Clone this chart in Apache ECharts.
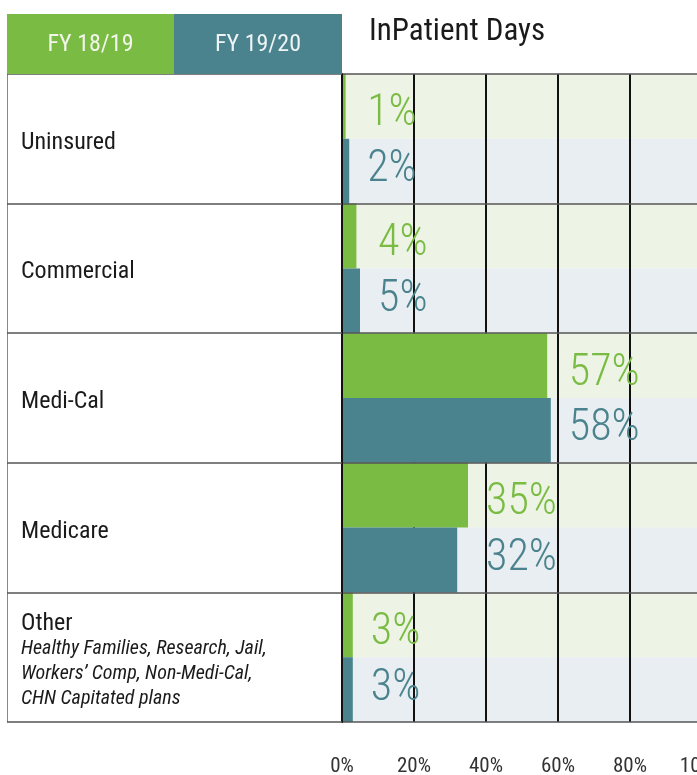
<!DOCTYPE html>
<html>
<head>
<meta charset="utf-8">
<script src="https://cdn.jsdelivr.net/npm/echarts@6/dist/echarts.min.js"></script>
<style>
html,body{margin:0;padding:0;background:#fff;}
#chart{width:697px;height:775px;}
</style>
</head>
<body>
<div id="chart"></div>
<script>
var categories = ['Uninsured', 'Commercial', 'Medi-Cal', 'Medicare', 'Other'];
var otherNote = ['Healthy Families, Research, Jail,', 'Workers\u2019 Comp, Non-Medi-Cal,', 'CHN Capitated plans'];
var fy1819 = [1, 4, 57, 35, 3];
var fy1920 = [2, 5, 58, 32, 3];
var seriesNames = ['FY 18/19', 'FY 19/20'];
var xTicks = [0, 20, 40, 60, 80, 100];
var title = 'InPatient Days';

var FONT = '"Roboto Condensed", "Liberation Sans Narrow", "DejaVu Sans Condensed", Roboto, sans-serif';
var GREEN = '#7abc43';
var TEAL = '#4a838d';
var GREEN_BG = '#edf3e5';
var TEAL_BG = '#e8eef1';

var gridLeft = 342, gridTop = 74, gridHeight = 648, gridWidth = 360;
var xMax = xTicks[xTicks.length - 1];
var pxPerUnit = gridWidth / xMax;
var labelGap = 18;

function labelData(values, other, dy) {
  return values.map(function (v, i) {
    var m = Math.max(values[i], other[i]);
    return {
      value: v,
      label: { offset: [(m - v) * pxPerUnit + labelGap, dy] }
    };
  });
}

var halfCats = [];
categories.forEach(function (c) { halfCats.push(c + '_a'); halfCats.push(c + '_b'); });

var chart = echarts.init(document.getElementById('chart'), null, { renderer: 'canvas' });
chart.setOption({
  animation: false,
  textStyle: { fontFamily: FONT },
  title: {
    text: title,
    left: 364, top: 12,
    textStyle: { fontFamily: FONT, fontSize: 31, fontWeight: 'normal', color: '#1a1a1a' }
  },
  grid: { left: gridLeft, top: gridTop, width: gridWidth, height: gridHeight, containLabel: false, outerBoundsMode: 'none' },
  graphic: [
    { type: 'rect', shape: { x: 7, y: 14, width: 167, height: 60 }, style: { fill: GREEN }, z: 10 },
    { type: 'rect', shape: { x: 174, y: 14, width: 168, height: 60 }, style: { fill: TEAL }, z: 10 },
    { type: 'text', x: 90.5, y: 45, style: { text: seriesNames[0], fill: '#f2f5ec', font: '24px ' + FONT, textAlign: 'center', textVerticalAlign: 'middle' }, z: 11 },
    { type: 'text', x: 258, y: 45, style: { text: seriesNames[1], fill: '#eef3f4', font: '24px ' + FONT, textAlign: 'center', textVerticalAlign: 'middle' }, z: 11 }
  ],
  xAxis: {
    type: 'value', min: 0, max: xMax, interval: 20, z: 1,
    axisLine: { show: false }, axisTick: { show: false },
    splitLine: { show: true, lineStyle: { color: '#111', width: 2 } },
    axisLabel: { formatter: '{value}%', margin: 34, color: '#333', fontSize: 21, fontFamily: FONT }
  },
  yAxis: [
    {
      type: 'category', data: categories, inverse: true, z: 3,
      axisLine: { show: true, lineStyle: { color: '#111', width: 2 } },
      axisTick: { show: true, length: 335, interval: 0, lineStyle: { color: '#555', width: 1.5 } },
      splitLine: { show: true, interval: 0, lineStyle: { color: '#555', width: 1.5 } },
      axisLabel: {
        interval: 0, align: 'left', margin: 321, color: '#1a1a1a', padding: [8, 0, 0, 0],
        formatter: function (v) {
          if (v === 'Other') {
            return '{main|Other}\n' + otherNote.map(function (l) { return '{note|' + l + '}'; }).join('\n');
          }
          return '{main|' + v + '}';
        },
        rich: {
          main: { fontSize: 24, lineHeight: 26, fontFamily: FONT, color: '#1a1a1a', align: 'left' },
          note: { fontSize: 20, lineHeight: 25, fontStyle: 'italic', fontFamily: FONT, color: '#1a1a1a', align: 'left' }
        }
      }
    },
    {
      type: 'category', data: halfCats, inverse: true, z: 0, offset: 335, position: 'left',
      axisLine: { show: true, lineStyle: { color: '#888', width: 1 } },
      axisTick: { show: false }, axisLabel: { show: false },
      splitLine: { show: false },
      splitArea: { show: true, interval: 0, areaStyle: { color: [GREEN_BG, TEAL_BG] } }
    }
  ],
  series: [
    {
      name: seriesNames[0], type: 'bar', yAxisIndex: 0, z: 2,
      data: labelData(fy1819, fy1920, 8),
      barGap: '0%', barCategoryGap: '0%',
      itemStyle: { color: GREEN },
      label: { show: true, position: 'right', distance: 0, formatter: '{c}%', color: GREEN, fontSize: 44, fontWeight: 300, fontFamily: FONT }
    },
    {
      name: seriesNames[1], type: 'bar', yAxisIndex: 0, z: 2,
      data: labelData(fy1920, fy1819, -1),
      barGap: '0%', barCategoryGap: '0%',
      itemStyle: { color: TEAL },
      label: { show: true, position: 'right', distance: 0, formatter: '{c}%', color: TEAL, fontSize: 44, fontWeight: 300, fontFamily: FONT }
    }
  ]
});
</script>
</body>
</html>
